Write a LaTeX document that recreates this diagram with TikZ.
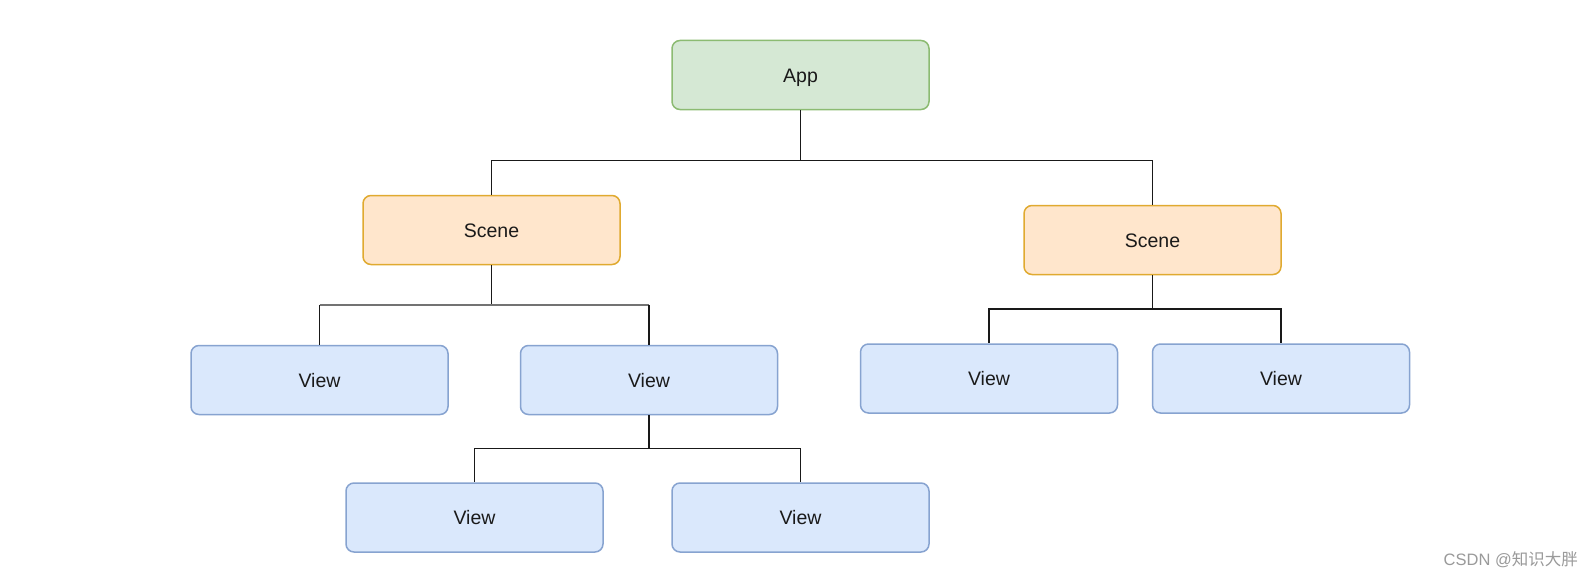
\documentclass[tikz,border=0pt]{standalone}
\usepackage{fontspec}
\setmainfont{Liberation Sans}
\newfontfamily\cjk{Noto Sans CJK SC}
\definecolor{gfill}{HTML}{D5E8D4}
\definecolor{gdraw}{HTML}{8CBB72}
\definecolor{ofill}{HTML}{FFE6CC}
\definecolor{odraw}{HTML}{E0AA30}
\definecolor{bfill}{HTML}{DAE8FC}
\definecolor{bdraw}{HTML}{87A3D0}
\definecolor{wm}{HTML}{9A9A9A}
\definecolor{txt}{HTML}{1A1A1A}
\tikzset{
  box/.style={rounded corners=8pt, minimum width=257pt, minimum height=69pt, line width=1.5pt, font=\fontsize{19.5pt}{22pt}\selectfont, text=txt, inner sep=0pt, text height=14pt, text depth=0pt},
  appbox/.style={box, fill=gfill, draw=gdraw},
  scenebox/.style={box, fill=ofill, draw=odraw},
  viewbox/.style={box, fill=bfill, draw=bdraw},
  conn/.style={line width=1.4pt, black!90},
}
\begin{document}
\begin{tikzpicture}[x=1pt,y=-1pt]
\useasboundingbox[fill=white] (0,0) rectangle (1594,578);
\node[appbox] (app) at (800.5,75) {App};
\node[scenebox] (s1) at (491.5,230) {Scene};
\node[scenebox] (s2) at (1152.5,240) {Scene};
\node[viewbox] (v1) at (319.5,380) {View};
\node[viewbox] (v2) at (649,380) {View};
\node[viewbox] (v3) at (989,378.5) {View};
\node[viewbox] (v4) at (1281,378.5) {View};
\node[viewbox] (v5) at (474.5,517.5) {View};
\node[viewbox] (v6) at (800.5,517.5) {View};
\draw[conn] (app.south) |- (491.5,160.5) -- (s1.north);
\draw[conn] (app.south) |- (1152.5,160.5) -- (s2.north);
\draw[conn] (s1.south) -- (491.5,305);
\draw[line width=2pt, black!55] (319.5,305) -- (649,305);
\draw[conn] (v1.north) -- (319.5,305);
\draw[conn] (v2.north) -- (649,305);
\draw[conn] (s2.south) |- (989,309) -- (v3.north);
\draw[conn] (s2.south) |- (1281,309) -- (v4.north);
\draw[conn] (v2.south) |- (474.5,448.5) -- (v5.north);
\draw[conn] (v2.south) |- (800.5,448.5) -- (v6.north);
\node[text=wm, font=\fontsize{16.5pt}{18pt}\selectfont, anchor=east, inner sep=0pt] (wmark) at (1578,560) {CSDN @{\cjk 知识大胖}};
\end{tikzpicture}
\end{document}
